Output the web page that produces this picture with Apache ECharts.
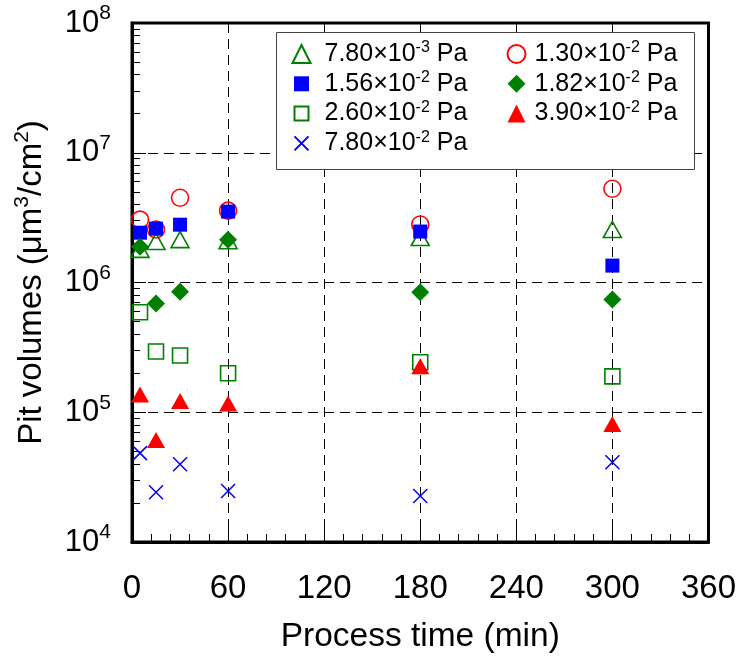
<!DOCTYPE html>
<html>
<head>
<meta charset="utf-8">
<script src="https://cdn.jsdelivr.net/npm/echarts@6/dist/echarts.min.js"></script>
<style>html,body{margin:0;padding:0;background:#fff;}#c{width:739px;height:659px;}</style>
</head>
<body>
<div id="c"></div>
<script>
// Process time (min)
const times = [5, 15, 30, 60, 180, 300];
// Pressure labels: mantissa, exponent
const pressureMantissa = ['7.80', '1.30', '1.56', '1.82', '2.60', '3.90', '7.80'];
const pressureExponent = ['-3', '-2', '-2', '-2', '-2', '-2', '-2'];
// Pit volumes (um^3/cm^2)
const p780e3 = [1.80e6, 2.07e6, 2.14e6, 2.10e6, 2.22e6, 2.56e6];
const p130e2 = [3.05e6, 2.56e6, 4.50e6, 3.58e6, 2.80e6, 5.28e6];
const p156e2 = [2.42e6, 2.60e6, 2.79e6, 3.52e6, 2.47e6, 1.35e6];
const p182e2 = [1.89e6, 6.9e5, 8.5e5, 2.14e6, 8.4e5, 7.4e5];
const p260e2 = [5.9e5, 2.94e5, 2.74e5, 2.00e5, 2.43e5, 1.89e5];
const p390e2 = [1.37e5, 6.1e4, 1.22e5, 1.17e5, 2.26e5, 8.1e4];
const p780e2 = [4.84e4, 2.42e4, 3.98e4, 2.47e4, 2.26e4, 4.12e4];
// axis ticks
const xTicks = [0, 60, 120, 180, 240, 300, 360];
const yDecades = [1e4, 1e5, 1e6, 1e7, 1e8];

const FONT = 'Liberation Sans, Arial, sans-serif';
const GREEN = '#008000', BLUE = '#0000ff', RED = '#ff0000';

const names = pressureMantissa.map((m, i) => m + '×10^' + pressureExponent[i] + ' Pa');
const values = [p780e3, p130e2, p156e2, p182e2, p260e2, p390e2, p780e2];

const styles = [
  {symbol: 'triangle', size: [18, 16], color: 'none', border: GREEN, bw: 1.6, icon: 'triangle'},
  {symbol: 'circle', size: 17, color: 'none', border: RED, bw: 1.6, icon: 'circle'},
  {symbol: 'rect', size: 14, color: BLUE, border: BLUE, bw: 0, icon: 'path://M0,0M18,18M1.5,1.5h15v15h-15z'},
  {symbol: 'diamond', size: 18, color: GREEN, border: GREEN, bw: 0, icon: 'diamond'},
  {symbol: 'rect', size: 15, color: 'none', border: GREEN, bw: 1.6, icon: 'path://M0,0M18,18M2,2h14v14h-14z'},
  {symbol: 'triangle', size: [18, 16], color: RED, border: RED, bw: 0, icon: 'triangle'},
  {symbol: 'path://M0,0L10,10M10,0L0,10', size: 14, color: 'none', border: BLUE, bw: 1.5, icon: 'path://M0,0M18,18M2,2L16,16M16,2L2,16'}
];

const series = names.map((n, i) => ({
  name: n,
  type: 'scatter',
  symbol: styles[i].symbol,
  symbolSize: styles[i].size,
  itemStyle: {color: styles[i].color, borderColor: styles[i].border, borderWidth: styles[i].bw, opacity: 1},
  emphasis: {disabled: true},
  data: times.map((t, j) => [t, values[i][j]]),
  z: 2 + i * 0.01
}));

function legendFmt(name) {
  const i = names.indexOf(name);
  return '{a|' + pressureMantissa[i] + '×10}{s|' + pressureExponent[i] + '}{a| Pa}';
}
const legendRich = {
  a: {fontSize: 25, lineHeight: 28, fontFamily: FONT, color: '#000'},
  s: {fontSize: 16, lineHeight: 12, verticalAlign: 'top', fontFamily: FONT, color: '#000'}
};
const col1 = [0, 2, 4, 6].map(i => ({name: names[i], icon: styles[i].icon}));
const col2 = [1, 3, 5].map(i => ({name: names[i], icon: styles[i].icon}));

const minorY = [];
for (let e = 4; e < 8; e++) for (let m = 2; m <= 9; m++) minorY.push(m * Math.pow(10, e));

const chart = echarts.init(document.getElementById('c'), null, {renderer: 'canvas'});
chart.setOption({
  animation: false,
  backgroundColor: '#fff',
  textStyle: {fontFamily: FONT},
  grid: {left: 132, right: 27, top: 23, bottom: 116, show: true, borderColor: '#000', borderWidth: 3, backgroundColor: 'transparent'},
  graphic: [{
    type: 'rect', z: 3,
    shape: {x: 276.5, y: 32.5, width: 418, height: 137},
    style: {fill: '#fff', stroke: '#444', lineWidth: 1}
  }],
  legend: [
    {orient: 'vertical', left: 290, top: 40, padding: 0, itemGap: 3.3, itemWidth: 18, itemHeight: 18,
     selectedMode: false, data: col1, formatter: legendFmt, z: 5,
     textStyle: {padding: [0, 0, 0, 9], rich: legendRich}},
    {orient: 'vertical', left: 505, top: 40, padding: 0, itemGap: 3.3, itemWidth: 18, itemHeight: 18,
     selectedMode: false, data: col2, formatter: legendFmt, z: 5,
     textStyle: {padding: [0, 0, 0, 4], rich: legendRich}}
  ],
  xAxis: {
    type: 'value', min: xTicks[0], max: xTicks[xTicks.length - 1], interval: 60,
    name: 'Process time (min)', nameLocation: 'middle', nameGap: 78,
    nameTextStyle: {fontSize: 33.5, color: '#000', fontFamily: FONT},
    axisLine: {show: true, lineStyle: {color: '#000', width: 3}},
    axisTick: {show: true, inside: true, length: 14, lineStyle: {color: '#000', width: 1}},
    minorTick: {show: true, splitNumber: 5, length: 8, lineStyle: {color: '#000', width: 1}},
    axisLabel: {fontSize: 33, color: '#000', margin: 30, fontFamily: FONT},
    splitLine: {show: true, lineStyle: {color: '#000', width: 1, type: [10, 6]}}
  },
  yAxis: [{
    type: 'log', logBase: 10, min: yDecades[0], max: yDecades[yDecades.length - 1], interval: 1,
    name: '{a|Pit volumes (μm}{s|3}{a|/cm}{s|2}{a|)}', nameLocation: 'middle', nameGap: 80, nameRotate: 90,
    nameTextStyle: {color: '#000', fontFamily: FONT, rich: {
      a: {fontSize: 33, lineHeight: 40, fontFamily: FONT, color: '#000'},
      s: {fontSize: 21, lineHeight: 16, verticalAlign: 'top', fontFamily: FONT, color: '#000'}
    }},
    axisLine: {show: true, lineStyle: {color: '#000', width: 3}},
    axisTick: {show: true, inside: true, length: 14, lineStyle: {color: '#000', width: 1}},
    axisLabel: {
      margin: 21, color: '#000',
      formatter: v => '{b|10}{s|' + Math.round(Math.log10(v)) + '}',
      rich: {
        b: {fontSize: 31, lineHeight: 40, fontFamily: FONT, color: '#000'},
        s: {fontSize: 21, lineHeight: 16, verticalAlign: 'top', fontFamily: FONT, color: '#000'}
      }
    },
    splitLine: {show: true, lineStyle: {color: '#000', width: 1, type: [10, 6]}}
  }, {
    type: 'log', logBase: 10, min: yDecades[0], max: yDecades[yDecades.length - 1], position: 'left',
    axisLine: {show: false},
    axisLabel: {show: false},
    splitLine: {show: false},
    axisTick: {show: true, inside: true, length: 8, customValues: minorY, lineStyle: {color: '#000', width: 1}}
  }],
  series: series
});
</script>
</body>
</html>
